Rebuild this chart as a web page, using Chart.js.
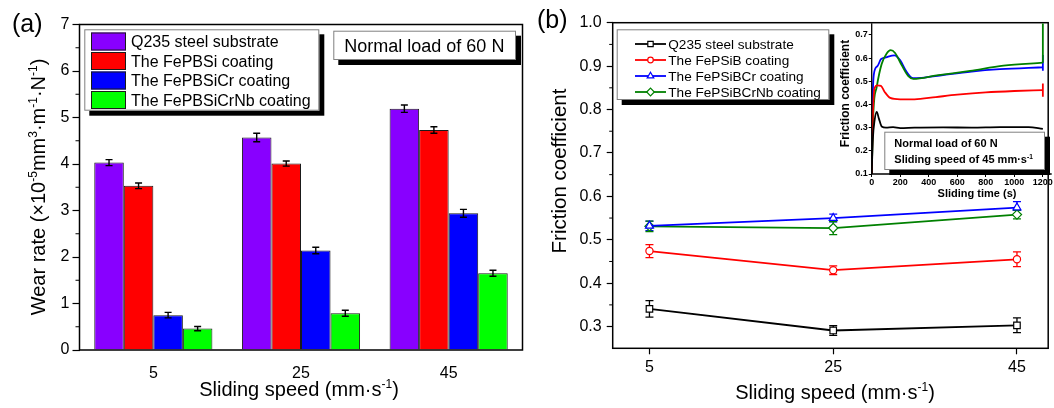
<!DOCTYPE html>
<html>
<head>
<meta charset="utf-8">
<script src="https://cdn.jsdelivr.net/npm/chart.js@4.4.1/dist/chart.umd.min.js"></script>
<style>
  body { margin: 0; background: #fff; width: 1054px; height: 408px; position: relative; overflow: hidden; }
  canvas { position: absolute; top: 0; }
  #wear { left: 0; }
  #fric { left: 527px; }
  #inset { left: 820px; }
</style>
</head>
<body>
<canvas id="wear" width="527" height="408"></canvas>
<canvas id="fric" width="527" height="408"></canvas>
<canvas id="inset" width="234" height="200"></canvas>
<script>
Chart.defaults.font.family = '"Liberation Sans", Arial, sans-serif';
Chart.defaults.color = '#000';
Chart.defaults.animation = false;

// (a) wear rate
const speedLabels = ['5', '25', '45'];
const wearNames = ['Q235 steel substrate', 'The FePBSi coating', 'The FePBSiCr coating', 'The FePBSiCrNb coating'];
const wearColors = ['#8800ff', '#ff0000', '#0000ff', '#00ff00'];
const wearQ235 = [4.03, 4.57, 5.19];
const wearFePBSi = [3.53, 4.01, 4.73];
const wearFePBSiCr = [0.75, 2.14, 2.94];
const wearFePBSiCrNb = [0.46, 0.79, 1.65];
const wearQ235Err = [0.065, 0.09, 0.08];
const wearFePBSiErr = [0.06, 0.055, 0.07];
const wearFePBSiCrErr = [0.06, 0.07, 0.085];
const wearFePBSiCrNbErr = [0.045, 0.065, 0.065];
const wearTicks = [0, 1, 2, 3, 4, 5, 6, 7];

// (b) friction coefficient
const speedValues = [5, 25, 45];
const fricNames = ['Q235 steel substrate', 'The FePSiB coating', 'The FePSiBCr coating', 'The FePSiBCrNb coating'];
const fricColors = ['#000000', '#ff0000', '#0000ff', '#008000'];
const fricQ235 = [0.341, 0.291, 0.303];
const fricFePSiB = [0.474, 0.430, 0.455];
const fricFePSiBCr = [0.532, 0.550, 0.574];
const fricFePSiBCrNb = [0.531, 0.527, 0.558];
const fricQ235Err = [0.019, 0.011, 0.017];
const fricFePSiBErr = [0.015, 0.010, 0.017];
const fricFePSiBCrErr = [0.011, 0.009, 0.014];
const fricFePSiBCrNbErr = [0.012, 0.015, 0.010];
const fricTicks = [0.3, 0.4, 0.5, 0.6, 0.7, 0.8, 0.9, 1.0];

// inset: friction vs sliding time at 45 mm/s
const insetTimeTicks = [0, 200, 400, 600, 800, 1000, 1200];
const insetFricTicks = [0.1, 0.2, 0.3, 0.4, 0.5, 0.6, 0.7];
const insetQ235 = [[0, 0.10], [8, 0.25], [20, 0.33], [35, 0.368], [50, 0.34], [70, 0.305], [100, 0.30], [150, 0.302], [200, 0.298], [300, 0.300], [500, 0.301], [700, 0.300], [900, 0.302], [1100, 0.302], [1200, 0.295]];
const insetFePSiB = [[0, 0.10], [8, 0.35], [20, 0.47], [40, 0.482], [65, 0.48], [90, 0.455], [130, 0.428], [200, 0.422], [300, 0.422], [450, 0.432], [600, 0.442], [800, 0.452], [1000, 0.458], [1200, 0.462]];
const insetFePSiBCr = [[0, 0.10], [6, 0.40], [15, 0.53], [40, 0.565], [65, 0.595], [100, 0.603], [160, 0.612], [200, 0.59], [240, 0.545], [290, 0.513], [350, 0.515], [500, 0.527], [700, 0.542], [900, 0.552], [1100, 0.558], [1200, 0.56]];
const insetFePSiBCrNb = [[0, 0.10], [12, 0.37], [35, 0.475], [70, 0.575], [105, 0.62], [133, 0.634], [164, 0.622], [210, 0.57], [257, 0.522], [292, 0.51], [456, 0.525], [690, 0.545], [924, 0.567], [1200, 0.58]];
const insetFePSiBEnd = [[1200, 0.49], [1200, 0.433]];
const insetFePSiBCrEnd = [[1200, 0.613], [1200, 0.545]];
const insetFePSiBCrNbEnd = [[1200, 0.58], [1200, 0.75]];

const FONT = '"Liberation Sans", Arial, sans-serif';

function richText(ctx, parts, x, y, size, opt = {}) {
  ctx.save();
  ctx.translate(x, y);
  if (opt.rotate) ctx.rotate(opt.rotate);
  const font = sup => `${opt.bold ? 'bold ' : ''}${sup ? size * 0.6 : size}px ${FONT}`;
  let w = 0;
  parts.forEach(([t, s]) => { ctx.font = font(s); w += ctx.measureText(t).width; });
  let cx = opt.align === 'left' ? 0 : -w / 2;
  ctx.fillStyle = '#000';
  ctx.textBaseline = 'alphabetic';
  parts.forEach(([t, s]) => {
    ctx.font = font(s);
    ctx.fillText(t, cx, s ? -size * 0.4 : 0);
    cx += ctx.measureText(t).width;
  });
  ctx.restore();
}

function shadowBox(ctx, x, y, w, h, sh) {
  ctx.save();
  ctx.fillStyle = '#000';
  ctx.fillRect(x + sh, y + sh, w, h);
  ctx.fillStyle = '#fff';
  ctx.fillRect(x, y, w, h);
  ctx.strokeStyle = '#808080';
  ctx.lineWidth = 1;
  ctx.strokeRect(x + 0.5, y + 0.5, w - 1, h - 1);
  ctx.restore();
}

function drawErrors(chart, o) {
  const ctx = chart.ctx;
  const ys = chart.scales.y;
  chart.data.datasets.forEach((ds, i) => {
    if (!ds.errors) return;
    const meta = chart.getDatasetMeta(i);
    ctx.save();
    ctx.strokeStyle = o.color || ds.borderColor;
    ctx.lineWidth = o.width;
    meta.data.forEach((el, j) => {
      const d = ds.data[j];
      const v = typeof d === 'object' ? d.y : d;
      const top = ys.getPixelForValue(v + ds.errors[j]);
      const bot = ys.getPixelForValue(v - ds.errors[j]);
      const c = o.cap / 2;
      ctx.beginPath();
      ctx.moveTo(el.x, top); ctx.lineTo(el.x, bot);
      ctx.moveTo(el.x - c, top); ctx.lineTo(el.x + c, top);
      ctx.moveTo(el.x - c, bot); ctx.lineTo(el.x + c, bot);
      ctx.stroke();
    });
    ctx.restore();
  });
}

const errorBars = {
  id: 'errorBars',
  beforeDatasetsDraw(chart, args, o) { if (o.before) drawErrors(chart, o); },
  afterDatasetsDraw(chart, args, o) { if (!o.before) drawErrors(chart, o); }
};

// box round the plot plus minor ticks halfway between major ones
const frame = {
  id: 'frame',
  afterDraw(chart, args, o) {
    const { ctx, chartArea: a } = chart;
    ctx.save();
    ctx.strokeStyle = '#000';
    ctx.lineWidth = o.width;
    if (o.full) {
      ctx.strokeRect(a.left, a.top, a.right - a.left, a.bottom - a.top);
    } else {
      ctx.beginPath();
      ctx.moveTo(a.left, a.top); ctx.lineTo(a.left, a.bottom); ctx.lineTo(a.right, a.bottom);
      ctx.stroke();
    }
    if (o.minorY) {
      const ys = chart.scales.y;
      const t = ys.ticks.map(k => k.value);
      ctx.lineWidth = 1;
      ctx.beginPath();
      for (let i = 0; i < t.length - 1; i++) {
        const py = ys.getPixelForValue((t[i] + t[i + 1]) / 2);
        ctx.moveTo(a.left - o.minorY, py); ctx.lineTo(a.left, py);
      }
      ctx.stroke();
    }
    ctx.restore();
    if (o.decor) o.decor(ctx, chart);
  }
};

function markerAt(ctx, style, x, y, r, color) {
  ctx.save();
  ctx.strokeStyle = color;
  ctx.fillStyle = '#fff';
  ctx.lineWidth = 1.2;
  Chart.helpers.drawPoint(ctx, { pointStyle: style, radius: r, rotation: 0, borderWidth: 1.2 }, x, y);
  ctx.restore();
}

const axisTicks = (len, w) => ({ display: true, drawOnChartArea: false, drawTicks: true, tickLength: len, tickColor: '#000', tickWidth: w });

// ---------- (a) ----------
const wearData = [wearQ235, wearFePBSi, wearFePBSiCr, wearFePBSiCrNb];
const wearErrs = [wearQ235Err, wearFePBSiErr, wearFePBSiCrErr, wearFePBSiCrNbErr];

new Chart(document.getElementById('wear'), {
  type: 'bar',
  data: {
    labels: speedLabels,
    datasets: wearNames.map((name, i) => ({
      label: name,
      data: wearData[i],
      errors: wearErrs[i],
      backgroundColor: wearColors[i],
      borderColor: '#1a1a1a',
      borderWidth: 1,
      barPercentage: 1,
      categoryPercentage: 0.8
    }))
  },
  options: {
    responsive: false,
    layout: { padding: { top: 24.5, right: 4.5, left: 0, bottom: 0 } },
    plugins: {
      legend: { display: false },
      tooltip: { enabled: false },
      errorBars: { color: '#000', width: 1.4, cap: 7 },
      frame: {
        width: 1.5, full: true, minorY: 4,
        decor(ctx) {
          richText(ctx, [['(a)', 0]], 12, 32, 25, { align: 'left' });
          richText(ctx, [['Wear rate (×10', 0], ['-5', 1], ['mm', 0], ['3', 1], ['·m', 0], ['-1', 1], ['·N', 0], ['-1', 1], [')', 0]], 45, 187, 20, { rotate: -Math.PI / 2 });
          richText(ctx, [['Sliding speed (mm·s', 0], ['-1', 1], [')', 0]], 299, 396, 20);
          // legend
          shadowBox(ctx, 84.3, 29.3, 235, 81.4, 5);
          wearNames.forEach((name, i) => {
            const cy = 41.5 + i * 19.5;
            ctx.fillStyle = wearColors[i];
            ctx.fillRect(91, cy - 9, 35, 18);
            ctx.strokeStyle = '#1a1a1a';
            ctx.lineWidth = 1;
            ctx.strokeRect(91.5, cy - 8.5, 34, 17);
            richText(ctx, [[name, 0]], 131, cy + 5.8, 16, { align: 'left' });
          });
          shadowBox(ctx, 333.3, 30.7, 182.7, 29.3, 5);
          richText(ctx, [['Normal load of 60 N', 0]], 344.3, 51.5, 18, { align: 'left' });
        }
      }
    },
    scales: {
      x: {
        grid: { display: false },
        border: { display: false },
        ticks: { font: { size: 16 }, padding: 6 },
        afterFit: s => { s.height = 58; }
      },
      y: {
        min: 0, max: 7,
        afterBuildTicks: s => { s.ticks = wearTicks.map(v => ({ value: v })); },
        grid: axisTicks(7, 1.2),
        border: { display: false },
        ticks: { font: { size: 16 }, padding: 3 },
        afterFit: s => { s.width = 79.5; }
      }
    }
  },
  plugins: [errorBars, frame]
});

// ---------- (b) ----------
const fricData = [fricQ235, fricFePSiB, fricFePSiBCr, fricFePSiBCrNb];
const fricErrs = [fricQ235Err, fricFePSiBErr, fricFePSiBCrErr, fricFePSiBCrNbErr];
const fricStyles = ['rect', 'circle', 'triangle', 'rectRot'];
const fricRadius = [4.6, 3.6, 4.6, 4.6];

new Chart(document.getElementById('fric'), {
  type: 'line',
  data: {
    datasets: fricNames.map((name, i) => ({
      label: name,
      data: speedValues.map((x, j) => ({ x, y: fricData[i][j] })),
      errors: fricErrs[i],
      borderColor: fricColors[i],
      backgroundColor: '#fff',
      borderWidth: 1.8,
      pointStyle: fricStyles[i],
      pointRadius: fricRadius[i],
      pointBorderWidth: 1.2,
      pointBackgroundColor: '#fff',
      pointBorderColor: fricColors[i]
    }))
  },
  options: {
    responsive: false,
    layout: { padding: { top: 22.7, right: 2.3, left: 0, bottom: 0 } },
    plugins: {
      legend: { display: false },
      tooltip: { enabled: false },
      errorBars: { width: 1.3, cap: 8, before: true },
      frame: {
        width: 1.5, full: true, minorY: 3.5,
        decor(ctx) {
          richText(ctx, [['(b)', 0]], 10, 28, 25, { align: 'left' });
          richText(ctx, [['Friction coefficient', 0]], 39, 171, 20.5, { rotate: -Math.PI / 2 });
          richText(ctx, [['Sliding speed (mm·s', 0], ['-1', 1], [')', 0]], 308, 399, 20);
          shadowBox(ctx, 89.7, 29.3, 212.6, 70.7, 5);
          fricNames.forEach((name, i) => {
            const cy = 44 + i * 16;
            ctx.strokeStyle = fricColors[i];
            ctx.lineWidth = 1.8;
            ctx.beginPath();
            ctx.moveTo(108, cy); ctx.lineTo(139, cy);
            ctx.stroke();
            markerAt(ctx, fricStyles[i], 123.5, cy, fricRadius[i] - 0.8, fricColors[i]);
            richText(ctx, [[name, 0]], 141.3, cy + 5, 13.6, { align: 'left' });
          });
        }
      }
    },
    scales: {
      x: {
        type: 'linear', min: 1, max: 48.4,
        afterBuildTicks: s => { s.ticks = speedValues.map(v => ({ value: v })); },
        grid: axisTicks(6, 1.2),
        border: { display: false },
        ticks: { font: { size: 16 }, padding: 4, callback: v => String(v) },
        afterFit: s => { s.height = 59.7; }
      },
      y: {
        min: 0.25, max: 1.0,
        afterBuildTicks: s => { s.ticks = fricTicks.map(v => ({ value: v })); },
        grid: axisTicks(6, 1.2),
        border: { display: false },
        ticks: { font: { size: 16 }, padding: 5, callback: v => v.toFixed(1) },
        afterFit: s => { s.width = 85.7; }
      }
    }
  },
  plugins: [errorBars, frame]
});

// ---------- inset ----------
const toXY = arr => arr.map(([x, y]) => ({ x, y }));
const insetLine = (data, color, smooth) => ({
  data: toXY(data),
  borderColor: color,
  borderWidth: 1.8,
  pointRadius: 0,
  fill: false,
  cubicInterpolationMode: smooth ? 'monotone' : 'default',
  tension: smooth ? 0.4 : 0
});

new Chart(document.getElementById('inset'), {
  type: 'line',
  data: {
    datasets: [
      insetLine(insetQ235, '#000000', true),
      insetLine(insetFePSiB, '#ff0000', true),
      insetLine(insetFePSiBCrNb, '#008000', true),
      insetLine(insetFePSiBCr, '#0000ff', true),
      insetLine(insetFePSiBEnd, '#ff0000', false),
      insetLine(insetFePSiBCrNbEnd, '#008000', false),
      insetLine(insetFePSiBCrEnd, '#0000ff', false)
    ]
  },
  options: {
    responsive: false,
    layout: { padding: { top: 23.3, right: 2.3, left: 0, bottom: 0 } },
    plugins: {
      legend: { display: false },
      tooltip: { enabled: false },
      frame: {
        width: 1.3, full: false,
        decor(ctx) {
          richText(ctx, [['Friction coefficient', 0]], 29.3, 93.5, 12, { rotate: -Math.PI / 2, bold: true });
          richText(ctx, [['Sliding time (s)', 0]], 157, 196.5, 11, { bold: true });
          shadowBox(ctx, 64.3, 131.7, 160.7, 38.3, 5);
          richText(ctx, [['Normal load of 60 N', 0]], 74.3, 147.2, 11, { bold: true, align: 'left' });
          richText(ctx, [['Sliding speed of 45 mm·s', 0], ['-1', 1]], 74.3, 163.2, 11, { bold: true, align: 'left' });
        }
      }
    },
    scales: {
      x: {
        type: 'linear', min: 0, max: 1262,
        afterBuildTicks: s => { s.ticks = insetTimeTicks.map(v => ({ value: v })); },
        grid: axisTicks(3, 1),
        border: { display: false },
        ticks: { font: { size: 9, weight: 'bold' }, padding: 0, maxRotation: 0, callback: v => String(v) },
        afterFit: s => { s.height = 26; }
      },
      y: {
        min: 0.1, max: 0.75,
        afterBuildTicks: s => { s.ticks = insetFricTicks.map(v => ({ value: v })); },
        grid: axisTicks(3, 1),
        border: { display: false },
        ticks: { font: { size: 9, weight: 'bold' }, padding: 1, callback: v => v.toFixed(1) },
        afterFit: s => { s.width = 51.7; }
      }
    }
  },
  plugins: [frame]
});
</script>
</body>
</html>
